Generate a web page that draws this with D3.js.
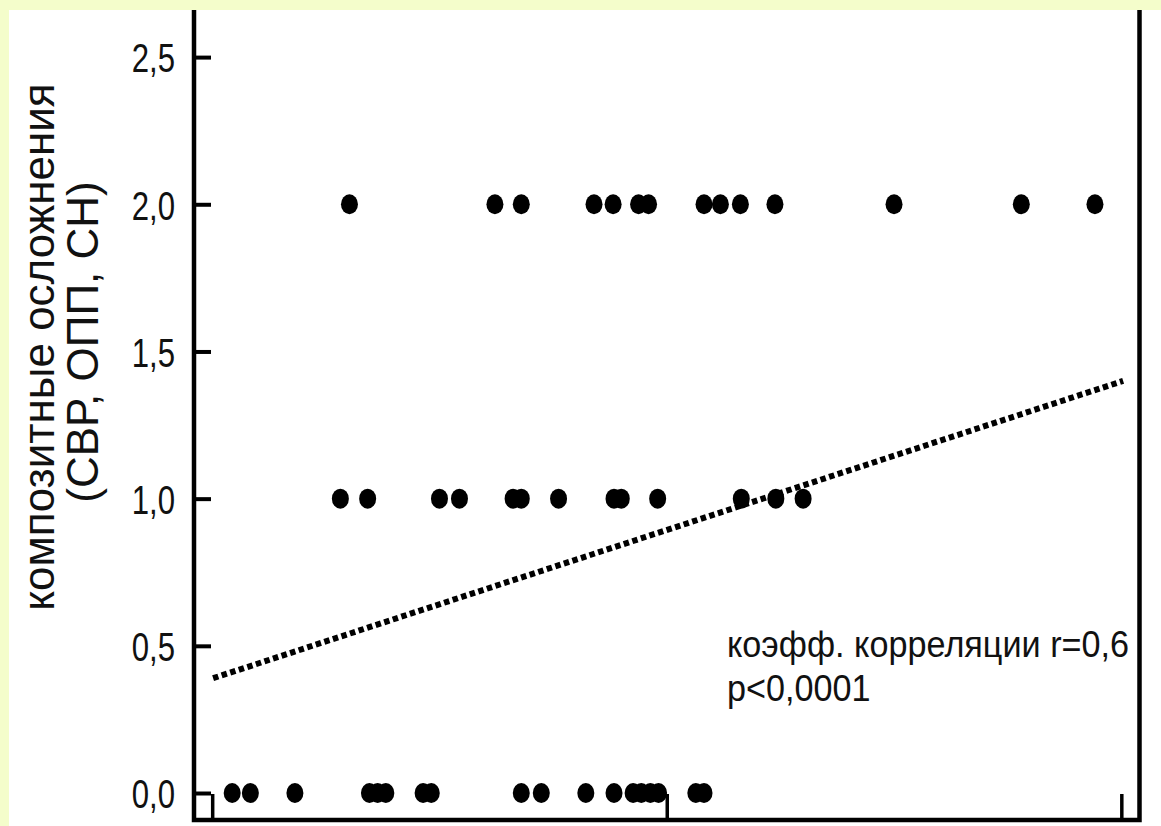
<!DOCTYPE html>
<html>
<head>
<meta charset="utf-8">
<script src="https://cdn.jsdelivr.net/npm/d3@7"></script>
<style>
  body { margin: 0; background: #f4fdcb; }
  svg { display: block; }
</style>
</head>
<body>
<div class="chart"></div>
<script>
// data (x in arbitrary units, no labels shown)
var row2x = [15.1, 31.1, 34.0, 42.0, 44.1, 46.9, 48.0, 54.1, 55.9, 58.1, 61.9, 75.0, 89.0, 97.1];
var row1x = [14.1, 17.1, 25.0, 27.2, 33.1, 34.0, 38.1, 44.2, 45.0, 49.0, 58.2, 62.0, 65.0];
var row0x = [2.2, 4.2, 9.1, 17.3, 18.2, 19.1, 23.2, 24.1, 34.0, 36.2, 41.1, 44.2, 46.3, 47.2, 48.2, 49.1, 53.2, 54.1];
var rowValues = [2, 1, 0];
var trendX = [0.1, 100.2];
var trendY = [0.39, 1.40];
var yTicks = [0, 0.5, 1, 1.5, 2, 2.5];
var xTicks = [0, 50, 100];
var yTitle = ["композитные осложнения", "(СВР, ОПП, СН)"];
var note = ["коэфф. корреляции r=0,6", "p<0,0001"];

var points = [];
[row2x, row1x, row0x].forEach(function(xs, i){
	xs.forEach(function(v){ points.push({x: v, y: rowValues[i]}); });
});

var svg = d3.select(".chart").append("svg")
			.attr("width", 1161)
			.attr("height", 826);

// white panel
svg.append("rect")
	.attr("x", 9)
	.attr("y", 10)
	.attr("width", 1152)
	.attr("height", 816)
	.style("fill", "#ffffff");

var x = d3.scaleLinear().domain([-2, 102]).range([194, 1139.5]);
var y = d3.scaleLinear().domain([-0.0917, 2.66]).range([820, 10]);

// y axis, ticks pointing inward
var yAxis = svg.append("g")
	.attr("transform", "translate(" + x(-2) + ",0)")
	.call(d3.axisLeft(y).tickValues(yTicks).tickSizeInner(-17).tickSizeOuter(0)
		.tickFormat(function(d){ return d3.format(".1f")(d).replace(".", ","); }));
yAxis.select(".domain").remove();
yAxis.selectAll("line").style("stroke", "#000").style("stroke-width", 4);
yAxis.selectAll("text")
	.attr("x", 0)
	.attr("dy", "0.36em")
	.attr("transform", "translate(-19,0) scale(0.76,1)")
	.style("font-family", "'Liberation Sans', Arial, sans-serif")
	.style("font-size", "41px")
	.style("fill", "#111");

// x axis, no labels
var xAxis = svg.append("g")
	.attr("transform", "translate(0," + y(-0.0917) + ")")
	.call(d3.axisBottom(x).tickValues(xTicks).tickSizeInner(-26).tickSizeOuter(0).tickFormat(""));
xAxis.select(".domain").remove();
xAxis.selectAll("line").style("stroke", "#000").style("stroke-width", 3.5);

// frame: left, bottom, right
svg.append("path")
	.attr("d", "M" + x(-2) + "," + y(2.66) + "V" + y(-0.0917) + "H" + x(102) + "V" + y(2.66))
	.style("fill", "none")
	.style("stroke", "#000")
	.style("stroke-width", 4.5);

// trend line
svg.append("line")
	.attr("x1", x(trendX[0]))
	.attr("y1", y(trendY[0]))
	.attr("x2", x(trendX[1]))
	.attr("y2", y(trendY[1]))
	.style("stroke", "#000")
	.style("stroke-width", 6)
	.style("stroke-dasharray", "5.5,3.5");

// points
svg.append("g").selectAll("ellipse")
	.data(points)
	.enter().append("ellipse")
	.attr("cx", function(d){ return x(d.x); })
	.attr("cy", function(d){ return y(d.y); })
	.attr("rx", 8.5)
	.attr("ry", 10)
	.style("fill", "#000");

// y title
svg.append("text")
	.attr("transform", "translate(54,347) rotate(-90)")
	.attr("text-anchor", "middle")
	.style("font-family", "'Liberation Sans', Arial, sans-serif")
	.style("font-size", "44px")
	.style("fill", "#111")
	.text(yTitle[0]);

svg.append("text")
	.attr("transform", "translate(98,342) rotate(-90)")
	.attr("text-anchor", "middle")
	.style("font-family", "'Liberation Sans', Arial, sans-serif")
	.style("font-size", "44px")
	.style("fill", "#111")
	.text(yTitle[1]);

// correlation note
svg.append("text")
	.attr("transform", "translate(727,657) scale(0.95,1)")
	.style("font-family", "'Liberation Sans', Arial, sans-serif")
	.style("font-size", "36px")
	.style("fill", "#111")
	.text(note[0]);

svg.append("text")
	.attr("transform", "translate(727,701) scale(0.95,1)")
	.style("font-family", "'Liberation Sans', Arial, sans-serif")
	.style("font-size", "36px")
	.style("fill", "#111")
	.text(note[1]);
</script>
</body>
</html>
